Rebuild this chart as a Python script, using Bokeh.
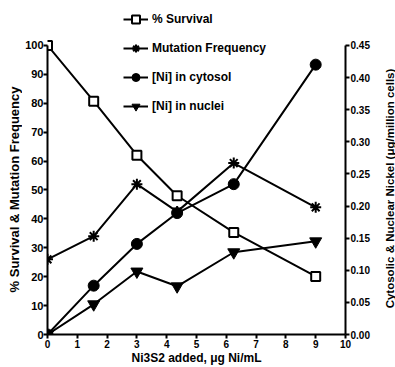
import math
from bokeh.plotting import figure
from bokeh.layouts import row
from bokeh.models import (LinearAxis, Range1d, FixedTicker, Legend, LegendItem,
                          NumeralTickFormatter)
from bokeh.embed import file_html
from bokeh.resources import INLINE

# ---- data ----
dose = [0, 1.55, 3.0, 4.35, 6.25, 9.0]            # Ni3S2 added, ug Ni/mL
survival = [100, 80.7, 62, 48, 35.3, 20.1]        # % survival (left axis)
mutation = [26, 34, 52, 42.5, 59.3, 44]           # mutation frequency (left axis)
ni_cytosol = [0, 0.076, 0.141, 0.189, 0.234, 0.42]  # ug/million cells (right axis)
ni_nuclei = [0, 0.047, 0.098, 0.075, 0.128, 0.145]  # ug/million cells (right axis)

x_ticks = list(range(0, 11))
left_ticks = list(range(0, 101, 10))
right_ticks = [0.00, 0.05, 0.10, 0.15, 0.20, 0.25, 0.30, 0.35, 0.40, 0.45]

left_title = "% Survival & Mutation Frequency"
right_title = "Cytosolic & Nuclear Nickel (μg/million cells)"
x_title = "Ni3S2 added, μg Ni/mL"
labels = ["% Survival", "Mutation Frequency", "[Ni] in cytosol", "[Ni] in nuclei"]

FONT = "Liberation Sans"
H = 367
# frame is extended above the 100 mark so the legend (which sits partly
# above the axes' top) is not clipped; the axes themselves are bounded.
FRAME_TOP, FRAME_BOT, AX_TOP = 5, 335, 45
ext = (FRAME_BOT - FRAME_TOP) / (FRAME_BOT - AX_TOP)

W_L, W_MAIN = 22, 358
W_R = 395 - W_L - W_MAIN


def no_frame_align(f):
    try:
        f.frame_align = False
    except Exception:
        pass


p = figure(width=W_MAIN, height=H, output_backend="svg", toolbar_location=None,
           title=None,
           x_range=Range1d(0, 10), y_range=Range1d(0, 100 * ext),
           min_border_left=47 - W_L, min_border_right=W_MAIN - (345 - W_L),
           min_border_top=FRAME_TOP, min_border_bottom=H - FRAME_BOT)
no_frame_align(p)
p.extra_y_ranges = {"ni": Range1d(0, 0.45 * ext)}
p.grid.visible = False
p.outline_line_color = None
p.background_fill_color = "white"
p.border_fill_color = "white"


def style_axis(ax):
    ax.axis_line_color = "black"
    ax.axis_line_width = 2
    ax.major_tick_line_color = "black"
    ax.major_tick_line_width = 2
    ax.major_tick_in = 0
    ax.major_tick_out = 4
    ax.minor_tick_line_color = None
    ax.major_label_text_font = FONT
    ax.major_label_text_font_style = "bold"
    ax.major_label_text_font_size = "10px"
    ax.major_label_text_color = "black"
    ax.major_label_standoff = 1
    ax.axis_label_text_font = FONT
    ax.axis_label_text_font_style = "bold"
    ax.axis_label_text_font_size = "12px"
    ax.axis_label_text_color = "black"
    ax.axis_label_standoff = 0


xa = p.xaxis[0]
style_axis(xa)
xa.ticker = FixedTicker(ticks=x_ticks)
xa.axis_label = x_title
xa.major_label_standoff = 1

ya = p.yaxis[0]
style_axis(ya)
ya.ticker = FixedTicker(ticks=left_ticks)
ya.bounds = (0, 100)
ya.major_label_text_font_size = "11px"
ya.major_label_standoff = 0

ra = LinearAxis(y_range_name="ni", ticker=FixedTicker(ticks=right_ticks),
                formatter=NumeralTickFormatter(format="0.00"))
style_axis(ra)
ra.bounds = (0, 0.45)
p.add_layout(ra, "right")

# ---- series ----
l1 = p.line(dose, survival, line_color="black", line_width=2)
l2 = p.line(dose, mutation, line_color="black", line_width=2)
l3 = p.line(dose, ni_cytosol, line_color="black", line_width=2, y_range_name="ni")
l4 = p.line(dose, ni_nuclei, line_color="black", line_width=2, y_range_name="ni")

m1 = p.scatter(dose, survival, marker="square", size=9, fill_color="white",
               line_color="black", line_width=2)
m2 = p.scatter(dose, mutation, marker="asterisk", size=11, line_color="black",
               line_width=2)
m3 = p.scatter(dose, ni_cytosol, marker="circle", size=11, fill_color="black",
               line_color="black", y_range_name="ni")
m4 = p.scatter(dose, ni_nuclei, marker="inverted_triangle", size=12,
               fill_color="black", line_color="black", y_range_name="ni")

legend = Legend(items=[
    LegendItem(label=labels[0], renderers=[l1, m1]),
    LegendItem(label=labels[1], renderers=[l2, m2]),
    LegendItem(label=labels[2], renderers=[l3, m3]),
    LegendItem(label=labels[3], renderers=[l4, m4]),
], location=(76, 218), orientation="vertical", border_line_color=None,
    background_fill_alpha=0, padding=0, margin=0, spacing=9,
    glyph_width=25, glyph_height=20, label_height=20, label_standoff=4,
    label_text_font=FONT, label_text_font_style="bold",
    label_text_font_size="12px", label_text_color="black")
p.add_layout(legend)


def title_strip(width, text, size, top, bottom):
    """A narrow figure whose only visible content is a vertical axis title
    reading bottom-to-top."""
    f = figure(width=width, height=H, output_backend="svg", toolbar_location=None,
               title=None, x_axis_location=None,
               x_range=Range1d(0, 1), y_range=Range1d(0, 1),
               min_border_left=width - 1, min_border_right=0,
               min_border_top=top, min_border_bottom=bottom)
    no_frame_align(f)
    f.grid.visible = False
    f.outline_line_color = None
    ax = f.yaxis[0]
    ax.ticker = FixedTicker(ticks=[])
    ax.axis_line_color = None
    ax.major_tick_line_color = None
    ax.minor_tick_line_color = None
    ax.major_tick_out = 0
    ax.major_label_standoff = 0
    ax.axis_label = text
    ax.axis_label_standoff = 0
    ax.axis_label_text_font = FONT
    ax.axis_label_text_font_style = "bold"
    ax.axis_label_text_font_size = size
    ax.axis_label_text_color = "black"
    return f


p_l = title_strip(W_L, left_title, "13px", 88, H - 290)
p_r = title_strip(W_R, right_title, "11.5px", 63, H - 313)

layout = row(p_l, p, p_r, spacing=0)
open("out.html", "w").write(file_html(layout, INLINE))
